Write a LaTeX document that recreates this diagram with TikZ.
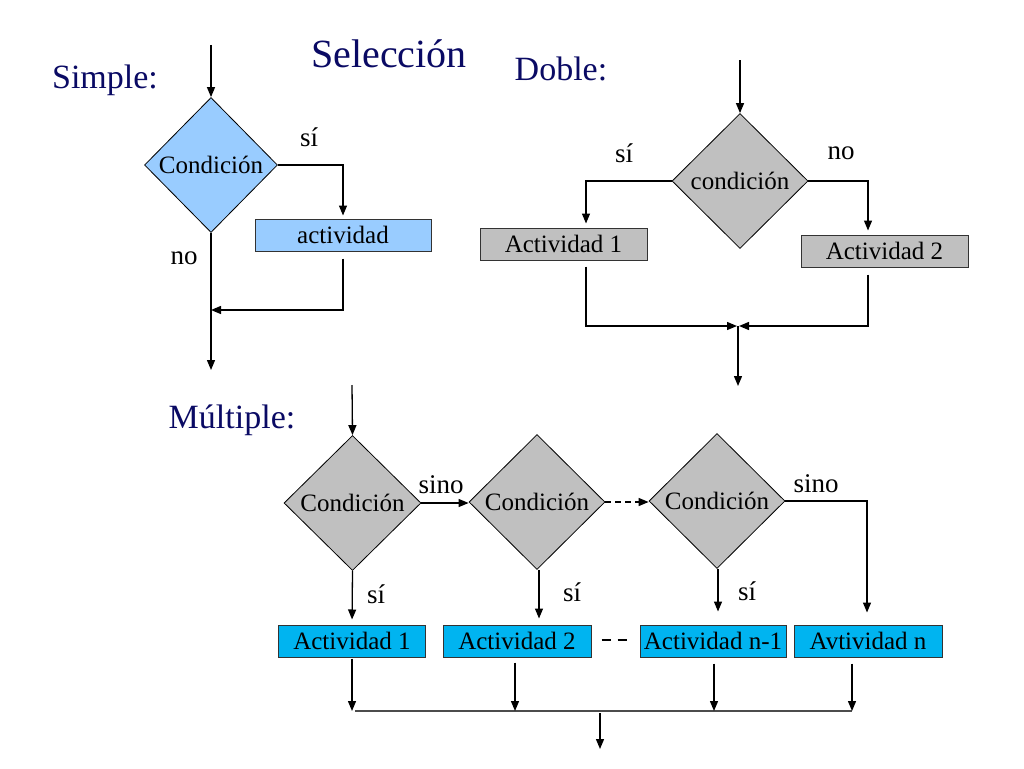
\documentclass[tikz,border=0pt]{standalone}
\usepackage{fontspec}
\setmainfont{Liberation Serif}
\usetikzlibrary{shapes.geometric,arrows.meta}
\definecolor{navy}{RGB}{10,10,100}
\definecolor{lblue}{RGB}{153,204,255}
\definecolor{lgray}{RGB}{192,192,192}
\definecolor{cyanbox}{RGB}{0,180,240}
\tikzset{
  arr/.style={draw=black, line width=1.3pt, -{Triangle[length=10pt,width=8pt]}},
  plain/.style={draw=black, line width=1.3pt},
  cond/.style={diamond, draw=black, line width=0.8pt, inner sep=0pt, font=\fontsize{25}{27}\selectfont},
  actbox/.style={rectangle, draw=black!80, line width=1pt, inner sep=0pt, font=\fontsize{25}{27}\selectfont},
  lbl/.style={font=\fontsize{27}{30}\selectfont},
  head/.style={text=navy, font=\fontsize{34}{38}\selectfont, anchor=base},
}
\begin{document}
\begin{tikzpicture}[x=1pt,y=-1pt]
\useasboundingbox (0,0) rectangle (1024,768);
% headings
\node[head, font=\fontsize{40}{44}\selectfont] (title) at (389,67) {Selección};
\node[head] (hsimple) at (105,88) {Simple:};
\node[head] (hdoble) at (561,80) {Doble:};
\node[head] (hmult) at (232,428) {Múltiple:};

% ---------- Simple
\coordinate (s0) at (211,45);
\node[cond, fill=lblue, minimum width=133pt, minimum height=135pt] (sd) at (211,165) {Condición};
\node[actbox, fill=lblue, minimum width=176pt, minimum height=32pt] (sb) at (343,235) {actividad};
\coordinate (sj) at (211,310);
\coordinate (s1) at (211,370);
\draw[arr] (s0) -- (sd.north);
\draw[arr, shorten >=3pt] (sd.east) -| (sb.north);
\draw[arr, shorten <=7pt] (sb.south) |- (sj);
\draw[arr] (sd.south) -- (s1);
\node[lbl] (ssi) at (309,137) {sí};
\node[lbl] (sno) at (184,258) {no};

% ---------- Doble
\coordinate (d0) at (740,60);
\node[cond, fill=lgray, minimum width=136pt, minimum height=135pt] (dd) at (740,181) {condición};
\node[actbox, fill=lgray, minimum width=167pt, minimum height=32pt] (db1) at (563.5,244) {Actividad 1};
\node[actbox, fill=lgray, minimum width=167pt, minimum height=32pt] (db2) at (884.5,251) {Actividad 2};
\coordinate (dj) at (738,326);
\coordinate (d1) at (738,386);
\draw[arr] (d0) -- (dd.north);
\draw[arr, shorten >=4pt] (dd.west) -| ([xshift=22.5pt]db1.north);
\draw[arr, shorten >=4pt] (dd.east) -| ([xshift=-16.5pt]db2.north);
\draw[arr, shorten <=6pt] ([xshift=22.5pt]db1.south) |- ([xshift=-1pt]dj);
\draw[arr, shorten <=7pt] ([xshift=-16.5pt]db2.south) |- ([xshift=1pt]dj);
\draw[arr] (dj) -- (d1);
\node[lbl] (dsi) at (624,153) {sí};
\node[lbl] (dno) at (841,153) {no};

% ---------- Multiple
\coordinate (m0) at (352,385);
\node[cond, fill=lgray, minimum width=137pt, minimum height=135pt] (md1) at (352.5,503) {Condición};
\node[cond, fill=lgray, minimum width=136pt, minimum height=135pt] (md2) at (537,502) {Condición};
\node[cond, fill=lgray, minimum width=136pt, minimum height=135pt] (md3) at (717,501) {Condición};
\node[actbox, fill=cyanbox, minimum width=147pt, minimum height=32pt] (mb1) at (352,641) {Actividad 1};
\node[actbox, fill=cyanbox, minimum width=148pt, minimum height=32pt] (mb2) at (517,641) {Actividad 2};
\node[actbox, fill=cyanbox, minimum width=146pt, minimum height=32pt] (mb3) at (713,641) {Actividad n-1};
\node[actbox, fill=cyanbox, minimum width=148pt, minimum height=32pt] (mb4) at (868,641) {Avtividad n};
\coordinate (ml) at (355,711);
\coordinate (mr) at (852,711);
\coordinate (mj) at (600,713);
\coordinate (m1) at (600,749);

\draw[arr] (m0) -- (md1.north);
\draw[arr] (md1.east) -- (md1.east -| md2.west);
\draw[arr, dash pattern=on 6pt off 4pt] (md2.east) -- (md2.east -| md3.west);
\draw[arr, shorten >=12pt] (md3.east) -| ([xshift=-1pt]mb4.north);
\draw[arr, shorten >=5pt] (md1.south) -- (mb1.north);
\draw[arr, shorten >=6pt] ([xshift=2pt]md2.south) -- ([xshift=2pt]md2.south |- mb2.north);
\draw[arr, shorten >=13pt] ([xshift=1pt]md3.south) -- ([xshift=1pt]md3.south |- mb3.north);
\draw[draw=black, line width=2pt, dash pattern=on 9pt off 7pt, shorten <=10pt, shorten >=12pt] ([yshift=1pt]mb2.east) -- ([yshift=1pt]mb3.west);

\draw[plain, draw=black!70] (ml) -- (mr);
\draw[arr, shorten <=1pt] (mb1.south) -- (mb1.south |- ml);
\draw[arr, shorten <=5pt] ([xshift=-2pt]mb2.south) -- ([xshift=-2pt]mb2.south |- ml);
\draw[arr, shorten <=6pt] ([xshift=1pt]mb3.south) -- ([xshift=1pt]mb3.south |- ml);
\draw[arr, shorten <=6pt] ([xshift=-16pt]mb4.south) -- (mr);
\draw[arr] (mj) -- (m1);

\node[lbl] (msino1) at (441,485) {sino};
\node[lbl] (msino2) at (816,484) {sino};
\node[lbl] (msi1) at (376,594) {sí};
\node[lbl] (msi2) at (572,592) {sí};
\node[lbl] (msi3) at (747,591) {sí};
\end{tikzpicture}
\end{document}
